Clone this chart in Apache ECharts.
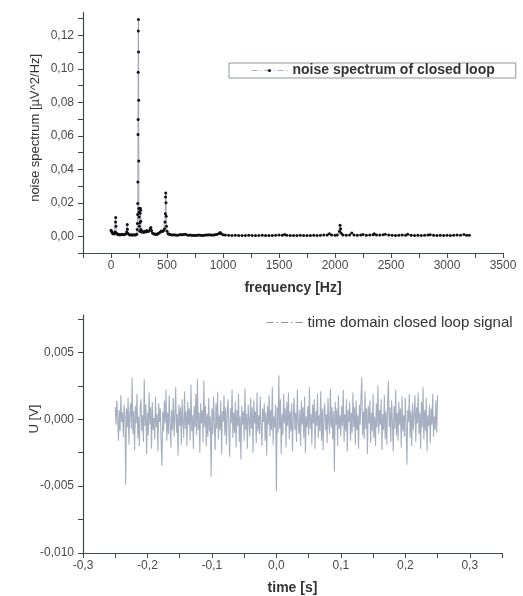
<!DOCTYPE html>
<html>
<head>
<meta charset="utf-8">
<script src="https://cdn.jsdelivr.net/npm/echarts@6/dist/echarts.min.js"></script>
<style>
html,body{margin:0;padding:0;background:#fff;}
#chart{width:523px;height:596px;}
</style>
</head>
<body>
<div id="chart"></div>
<script>
// ---- Top panel: noise spectrum ----
const freqHz = [
 0,5,10,15,20,25,30,35,40,42,44,48,55,60,70,80,90,100,110,120,130,140,145,147,150,160,170,180,190,200,210,220,230,234,236,238,239,240,241,242,243,244,245,246,247,248,249,250,251,253,256,258,260,262,264,266,268,272,280,290,300,310,320,330,340,350,356,362,370,380,390,400,410,420,430,440,450,460,470,478,482,485,487,489,491,493,495,500,510,520,530,545,560,575,590,605,620,635,650,665,680,695,710,725,740,755,770,785,800,815,830,845,860,875,890,905,920,935,950,965,975,985,1000,
 1020,1050,1080,1110,1140,1170,1200,1230,1260,1290,1320,1350,1380,1410,1440,1470,1500,1530,1550,1570,1600,1630,1660,1690,1720,1750,1780,1810,1840,1870,1900,1930,1950,1970,2000,2020,2040,2045,2050,2055,2070,2100,2130,2150,2170,2200,2230,2250,2280,2310,2340,2350,2370,2400,2430,2450,2480,2510,2540,2570,2600,2630,2650,2680,2710,2740,2770,2800,2830,2850,2880,2910,2940,2970,3000,3030,3060,3090,3120,3150,3175,3200
];
const psd = [
 0.0036,0.0030,0.0022,0.0018,0.0016,0.0014,0.0017,0.0025,0.0085,0.0112,0.0060,0.0020,0.0014,0.0010,0.0012,0.0008,0.0010,0.0012,0.0009,0.0011,0.0014,0.0025,0.0070,0.0042,0.0018,0.0010,0.0008,0.0009,0.0007,0.0008,0.0009,0.0008,0.0012,0.0040,0.0076,0.0130,0.0195,0.0324,0.0607,0.0697,0.0980,0.1226,0.1294,0.1100,0.0812,0.0450,0.0165,0.0145,0.0115,0.0060,0.0030,0.0080,0.0137,0.0167,0.0155,0.0090,0.0040,0.0025,0.0030,0.0022,0.0030,0.0025,0.0035,0.0028,0.0032,0.0045,0.0052,0.0035,0.0020,0.0015,0.0012,0.0014,0.0010,0.0016,0.0020,0.0025,0.0032,0.0028,0.0035,0.0045,0.0085,0.0135,0.0235,0.0259,0.0200,0.0120,0.0060,0.0030,0.0015,0.0012,0.0010,0.0008,0.0009,0.0007,0.0006,0.0008,0.0010,0.0009,0.0011,0.0012,0.0008,0.0006,0.0007,0.0005,0.0006,0.0005,0.0006,0.0007,0.0006,0.0005,0.0006,0.0008,0.0007,0.0009,0.0008,0.0007,0.0008,0.0010,0.0012,0.0016,0.0022,0.0015,0.0009,
 0.0007,0.0006,0.0005,0.0006,0.0005,0.0004,0.0005,0.0006,0.0005,0.0004,0.0005,0.0006,0.0005,0.0004,0.0005,0.0006,0.0007,0.0006,0.0010,0.0006,0.0005,0.0004,0.0005,0.0006,0.0005,0.0004,0.0005,0.0006,0.0005,0.0006,0.0007,0.0008,0.0015,0.0007,0.0006,0.0008,0.0030,0.0066,0.0045,0.0018,0.0008,0.0006,0.0007,0.0020,0.0008,0.0006,0.0007,0.0010,0.0006,0.0007,0.0009,0.0015,0.0008,0.0007,0.0009,0.0012,0.0007,0.0006,0.0005,0.0006,0.0007,0.0006,0.0012,0.0006,0.0005,0.0006,0.0005,0.0006,0.0007,0.0009,0.0006,0.0005,0.0006,0.0005,0.0006,0.0005,0.0006,0.0007,0.0006,0.0011,0.0006,0.0006
];
const specYTicks = [-0.01,0,0.01,0.02,0.03,0.04,0.05,0.06,0.07,0.08,0.09,0.10,0.11,0.12,0.13];
const specYLabels = [0,0.02,0.04,0.06,0.08,0.10,0.12];
const specXTicks = [-250,0,250,500,750,1000,1250,1500,1750,2000,2250,2500,2750,3000,3250,3500];
const specXLabels = [0,500,1000,1500,2000,2500,3000,3500];

// ---- Bottom panel: time domain signal ----
const tStart = -0.25;      // s
const tStep = 0.00125;     // s
const signal_mV = [
 0.9,-0.4,1.4,0.2,-1.6,0.7,-0.9,1.8,-0.2,0.5,
 -1.3,1.1,0.3,-4.9,0.8,-0.6,1.6,-1.9,0.4,1.2,
 -0.7,3.1,-1.1,0.6,-2.3,1.0,-0.3,1.9,-1.4,0.2,
 -2.0,0.8,1.5,-0.9,0.3,-1.7,3.0,-0.5,1.1,-2.6,
 0.5,-1.2,2.0,-0.4,0.9,-2.2,1.3,-0.8,0.1,-1.5,
 1.7,-0.6,0.4,-2.4,1.2,-0.2,0.8,-1.8,-3.5,0.6,
 -0.9,1.4,-0.3,2.2,-1.6,0.5,-1.1,1.8,-0.4,-2.1,
 0.7,-0.8,1.6,-1.3,0.2,2.4,-1.0,0.4,-2.7,1.1,
 -0.5,0.9,-1.9,1.5,-0.2,-1.4,2.1,-0.7,0.6,-2.0,
 1.3,-0.4,0.8,-1.6,2.6,-0.9,0.3,-2.2,1.0,-0.6,
 1.9,-1.2,3.0,-0.8,0.5,-2.5,1.2,-0.3,0.7,-1.7,
 2.9,-0.6,1.0,-2.0,0.4,-1.3,1.6,-0.9,0.2,-4.3,
 0.8,-1.1,1.7,-0.4,-2.3,1.2,-0.7,2.0,-1.5,0.3,
 -0.8,1.4,-2.6,0.6,-0.2,1.8,-1.2,0.9,-1.9,0.4,
 1.5,-0.6,-2.8,0.8,-0.3,2.2,-1.4,0.5,-1.0,1.3,
 -2.1,0.7,-0.5,1.9,-1.7,0.2,-3.0,1.0,-0.4,0.6,
 -1.6,2.3,-0.8,0.4,-2.2,1.1,-0.1,-1.3,1.6,-0.7,
 0.9,-2.5,1.4,-0.3,0.6,-1.8,2.0,-0.9,0.3,-1.1,
 1.7,-0.5,-2.0,0.8,-0.2,1.2,-1.6,0.5,-2.7,1.0,
 -0.4,1.8,-1.3,0.7,-0.8,2.4,-1.9,0.2,-0.6,1.1,
 -5.4,0.9,-1.0,3.3,-0.7,1.5,-2.6,0.4,-1.2,1.9,
 -0.3,0.8,-2.1,1.3,-0.5,2.0,-1.5,0.6,-0.9,1.2,
 -2.4,0.3,1.6,-0.8,0.5,-1.7,2.2,-0.2,-1.1,0.7,
 -2.0,1.4,-0.4,0.9,-1.4,1.7,-2.5,0.2,-0.6,1.0,
 -1.2,2.4,-0.7,0.4,-1.9,1.1,-0.3,1.5,-2.2,0.6,
 -0.5,1.9,-1.4,0.3,-0.9,2.1,-1.6,0.8,-2.3,0.5,
 1.2,-0.8,0.4,-1.8,1.6,-0.2,-1.1,2.3,-0.6,0.9,
 -1.5,0.6,-3.9,1.3,-0.4,0.8,-2.0,1.8,-0.7,0.3,
 -1.3,1.0,-0.5,2.2,-1.7,0.4,-0.9,1.5,-2.4,0.7,
 -0.2,1.3,-1.6,0.5,-1.0,2.0,-0.6,0.9,-1.9,1.4,
 -0.8,0.3,-2.2,1.1,-0.4,1.7,3.1,-1.2,0.6,-1.5,
 2.1,-0.7,0.8,-2.6,1.0,-0.3,1.4,-1.8,0.5,-0.9,
 1.9,-1.4,0.2,-2.0,1.2,-0.6,2.5,-1.1,0.7,-0.4,
 1.5,-2.3,0.4,-0.8,1.8,-1.5,0.6,-1.9,1.1,2.9,
 -0.6,0.9,-1.7,1.4,-0.3,-2.4,1.0,-0.7,2.2,-1.2,
 0.5,-1.6,1.3,-0.4,0.8,-2.1,1.7,-0.9,0.3,-1.3,
 1.6,-0.5,-3.4,0.7,-0.2,1.9,-1.4,0.6,-2.0,1.2,
 -0.8,0.4,1.8,-1.7,0.9,-0.3,2.0,-1.1,0.5,-2.2,
 1.3,-0.6,2.4,-1.5,0.7,-0.9,1.6,-2.4,0.3,-0.5,
 1.1,-1.8,0.8,-0.4,1.9,-1.3,0.2,-0.8,1.4,-1.0,
 1.8
];
const timeYTicks = [-0.01,-0.0075,-0.005,-0.0025,0,0.0025,0.005,0.0075];
const timeYLabels = [-0.01,-0.005,0,0.005];
const timeXTicks = [-0.3,-0.25,-0.2,-0.15,-0.1,-0.05,0,0.05,0.1,0.15,0.2,0.25,0.3,0.35];
const timeXLabels = [-0.3,-0.2,-0.1,0,0.1,0.2,0.3];

const specData = freqHz.map((f,i)=>[f, psd[i]]);
const timeData = signal_mV.map((v,i)=>[tStart + i*tStep, v/1000]);

const axisColor = '#3e4c4c';
const labelColor = '#4a4a4a';
const FONT = '"Liberation Sans", Arial, sans-serif';
const comma = (v,d)=> {
  const x = Math.abs(v) < 1e-12 ? 0 : v;
  return x.toFixed(d).replace('.', ',');
};

function axisBase(){
  return {
    axisLine:{show:true,onZero:false,lineStyle:{color:axisColor,width:1.2}},
    splitLine:{show:false},
    nameMoveOverlap:false
  };
}
function ticks(vals){ return {show:true,length:5,customValues:vals,lineStyle:{color:axisColor,width:1}}; }
function labels(vals,fmt,margin){ return {fontFamily:FONT,fontSize:12,color:labelColor,margin:margin,customValues:vals,formatter:fmt}; }

const chart = echarts.init(document.getElementById('chart'), null, {renderer:'canvas'});
const option = {
  animation:false,
  backgroundColor:'#fff',
  grid:[
    {left:83, right:20, top:12.7, height:240.3},
    {left:83, right:21, top:315, height:240}
  ],
  xAxis:[
    Object.assign(axisBase(), {
      type:'value', gridIndex:0, min:-250, max:3500,
      name:'frequency [Hz]', nameLocation:'middle', nameGap:28,
      nameTextStyle:{fontFamily:FONT,fontSize:14,fontWeight:'bold',color:'#333'},
      axisTick:ticks(specXTicks),
      axisLabel:labels(specXLabels,v=>String(v),7)
    }),
    Object.assign(axisBase(), {
      type:'value', gridIndex:1, min:-0.3, max:0.35,
      name:'time [s]', nameLocation:'middle', nameGap:28,
      nameTextStyle:{fontFamily:FONT,fontSize:14,fontWeight:'bold',color:'#333'},
      axisTick:ticks(timeXTicks),
      axisLabel:labels(timeXLabels,v=>comma(v,1),7)
    })
  ],
  yAxis:[
    Object.assign(axisBase(), {
      type:'value', gridIndex:0, min:-0.01, max:0.1335,
      name:'noise spectrum [µV^2/Hz]', nameLocation:'middle', nameGap:41,
      nameTextStyle:{fontFamily:FONT,fontSize:13,color:'#333',padding:[0,0,0,10]},
      axisTick:ticks(specYTicks),
      axisLabel:labels(specYLabels,v=>comma(v,2),9)
    }),
    Object.assign(axisBase(), {
      type:'value', gridIndex:1, min:-0.01, max:0.0078,
      name:'U [V]', nameLocation:'middle', nameGap:42,
      nameTextStyle:{fontFamily:FONT,fontSize:13,color:'#333',padding:[0,0,0,30]},
      axisTick:ticks(timeYTicks),
      axisLabel:labels(timeYLabels,v=>comma(v,3),9)
    })
  ],
  legend:[
    {
      data:['noise spectrum of closed loop'],
      left:229, top:63, orient:'horizontal',
      borderColor:'#8c9898', borderWidth:1, padding:[0,21,0,22],
      itemWidth:36, itemHeight:4,
      textStyle:{fontFamily:FONT,fontSize:14,fontWeight:'bold',color:'#333',lineHeight:15},
      itemStyle:{color:'#111'},
      lineStyle:{color:'#a8a8cc',type:[6,3,1,3],width:1}
    },
    {
      data:['time domain closed loop signal'],
      left:266, top:315, orient:'horizontal', padding:0,
      itemWidth:36, itemHeight:4,
      textStyle:{fontFamily:FONT,fontSize:15,color:'#333'},
      itemStyle:{opacity:0},
      lineStyle:{color:'#8a94a8',type:[7,3,1.5,3],width:1}
    }
  ],
  series:[
    {
      name:'noise spectrum of closed loop', type:'line', xAxisIndex:0, yAxisIndex:0,
      data:specData, symbol:'circle', symbolSize:3, showSymbol:true,
      itemStyle:{color:'#111'},
      lineStyle:{color:'#a0a0bc',width:1},
      emphasis:{disabled:true}
    },
    {
      name:'time domain closed loop signal', type:'line', xAxisIndex:1, yAxisIndex:1,
      data:timeData, symbol:'none',
      lineStyle:{color:'rgba(112,126,156,0.62)',width:1.1},
      emphasis:{disabled:true}
    }
  ]
};
chart.setOption(option);
</script>
</body>
</html>
